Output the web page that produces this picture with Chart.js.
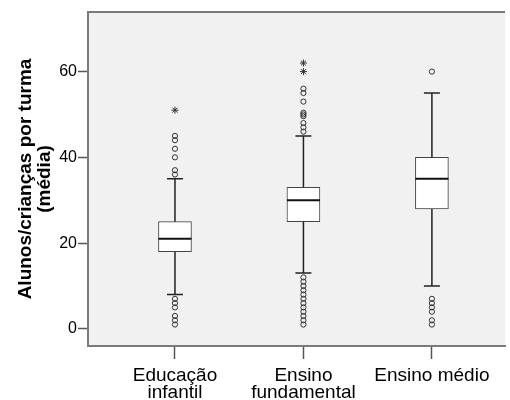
<!DOCTYPE html>
<html>
<head>
<meta charset="utf-8">
<script src="https://cdn.jsdelivr.net/npm/chart.js@4"></script>
<style>
  html, body { margin: 0; padding: 0; background: #fff; overflow: hidden; }
  #wrap { width: 510px; height: 400px; }
</style>
</head>
<body>
<div id="wrap"><canvas id="chart" width="510" height="400"></canvas></div>
<script>
const categories = [['Educação', 'infantil'], ['Ensino', 'fundamental'], 'Ensino médio']
const whiskerLow = [8, 13, 10]
const q1 = [18, 25, 28]
const median = [21, 30, 35]
const q3 = [25, 33, 40]
const whiskerHigh = [35, 45, 55]
const outliers = [
  [1, 2, 3, 5, 6, 7, 36, 37, 40, 42, 44, 45],
  [1, 2, 3, 4, 5, 6, 7, 8, 9, 10, 11, 12, 46, 47, 48, 49.6, 50, 50.4, 53, 55, 56],
  [1, 2, 4, 5, 6, 7, 60]
]
const extremes = [[51], [60, 62], []]
const yTicks = [0, 20, 40, 60]

Chart.defaults.font.family = '"Liberation Sans", Arial, sans-serif'

const plotBg = '#f0f1f0'
const frameColor = '#7a7a7a'

const backgroundPlugin = {
  id: 'plotBackground',
  beforeDraw(chart) {
    const { ctx, chartArea: a } = chart
    ctx.save()
    ctx.fillStyle = plotBg
    ctx.fillRect(a.left, a.top, a.right - a.left, a.bottom - a.top)
    ctx.strokeStyle = frameColor
    ctx.lineWidth = 2
    ctx.beginPath()
    ctx.moveTo(a.left, a.top)
    ctx.lineTo(a.right, a.top)
    ctx.stroke()
    ctx.restore()
  }
}

// whiskers + caps under the boxes, medians on top
const boxPlugin = {
  id: 'boxParts',
  beforeDatasetsDraw(chart) {
    const { ctx, scales: { x, y } } = chart
    ctx.save()
    ctx.strokeStyle = '#222'
    ctx.lineWidth = 1.5
    categories.forEach((c, i) => {
      const px = x.getPixelForValue(i)
      ctx.beginPath()
      ctx.moveTo(px, y.getPixelForValue(whiskerLow[i]))
      ctx.lineTo(px, y.getPixelForValue(q1[i]))
      ctx.moveTo(px, y.getPixelForValue(q3[i]))
      ctx.lineTo(px, y.getPixelForValue(whiskerHigh[i]))
      ctx.moveTo(px - 8, y.getPixelForValue(whiskerLow[i]))
      ctx.lineTo(px + 8, y.getPixelForValue(whiskerLow[i]))
      ctx.moveTo(px - 8, y.getPixelForValue(whiskerHigh[i]))
      ctx.lineTo(px + 8, y.getPixelForValue(whiskerHigh[i]))
      ctx.stroke()
    })
    ctx.restore()
  },
  afterDatasetsDraw(chart) {
    const { ctx, scales: { x, y } } = chart
    ctx.save()
    ctx.strokeStyle = '#111'
    ctx.lineWidth = 2
    categories.forEach((c, i) => {
      const px = x.getPixelForValue(i)
      const py = y.getPixelForValue(median[i])
      ctx.beginPath()
      ctx.moveTo(px - 16.5, py)
      ctx.lineTo(px + 16.5, py)
      ctx.stroke()
    })
    ctx.restore()
  }
}

const outlierPoints = []
const extremePoints = []
categories.forEach((c, i) => {
  outliers[i].forEach(v => outlierPoints.push({ x: i, y: v }))
  extremes[i].forEach(v => extremePoints.push({ x: i, y: v }))
})

new Chart(document.getElementById('chart'), {
  type: 'bar',
  data: {
    datasets: [
      {
        type: 'scatter',
        data: outlierPoints,
        pointStyle: 'circle',
        pointRadius: 2.6,
        borderColor: '#333',
        borderWidth: 1,
        backgroundColor: 'rgba(0,0,0,0)'
      },
      {
        type: 'scatter',
        data: extremePoints,
        pointStyle: 'star',
        pointRadius: 3.5,
        borderColor: '#333',
        borderWidth: 1,
        backgroundColor: 'rgba(0,0,0,0)'
      },
      {
        type: 'bar',
        data: categories.map((c, i) => ({ x: i, y: [q1[i], q3[i]] })),
        backgroundColor: '#fff',
        borderColor: '#444',
        borderWidth: 1,
        borderSkipped: false,
        barThickness: 33
      }
    ]
  },
  options: {
    responsive: false,
    animation: false,
    layout: { padding: { top: 12, right: 0, bottom: 0, left: 0 } },
    plugins: {
      legend: { display: false },
      tooltip: { enabled: false }
    },
    scales: {
      x: {
        type: 'linear',
        min: -0.677,
        max: 2.569,
        offset: false,
        afterBuildTicks: s => { s.ticks = categories.map((c, i) => ({ value: i })) },
        afterFit: s => { s.height = 54 },
        ticks: {
          callback: (v, i) => categories[i],
          color: '#000',
          font: { size: 19, lineHeight: 0.9 },
          padding: 8,
          autoSkip: false,
          maxRotation: 0
        },
        grid: { drawOnChartArea: false, offset: false, tickLength: 13, color: '#555', tickWidth: 1.5 },
        border: { color: frameColor, width: 2 }
      },
      y: {
        min: -4,
        max: 73.9,
        afterBuildTicks: s => { s.ticks = yTicks.map(v => ({ value: v })) },
        afterFit: s => { s.width = 88 },
        ticks: { color: '#000', font: { size: 16 }, padding: 1 },
        grid: { drawOnChartArea: false, tickLength: 10, color: '#555', tickWidth: 1.5 },
        border: { color: frameColor, width: 2 },
        title: {
          display: true,
          text: ['Alunos/crianças por turma', '(média)'],
          color: '#000',
          font: { size: 19, weight: 'bold', lineHeight: 1.0 },
          padding: { top: 16, bottom: 0 }
        }
      }
    }
  },
  plugins: [backgroundPlugin, boxPlugin]
})
</script>
</body>
</html>
